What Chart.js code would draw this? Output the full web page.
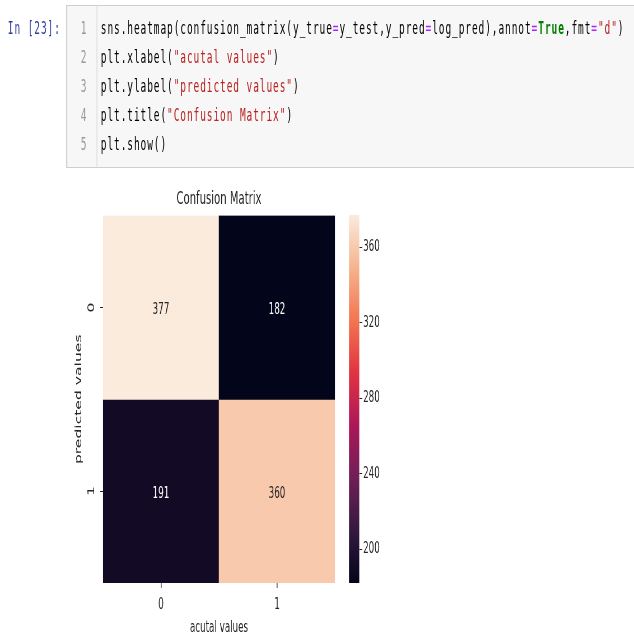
<!DOCTYPE html>
<html><head><meta charset="utf-8">
<script src="https://cdn.jsdelivr.net/npm/chart.js@4.4.1/dist/chart.umd.min.js"></script>
<style>
html,body{margin:0;padding:0;background:#fff;overflow:hidden;width:634px;height:633px;}
#page{position:absolute;left:0;top:0;width:1132px;height:633px;transform:scaleX(0.56);transform-origin:0 0;}
.mono{font-family:'DejaVu Sans Mono',monospace;font-size:17px;letter-spacing:1.6px;line-height:29px;white-space:pre;}
#prompt{position:absolute;left:14px;top:13.5px;color:#303F9F;}
#cell{position:absolute;left:118px;top:5px;width:1100px;height:161px;background:#f7f7f7;border:1px solid #cfcfcf;border-left-width:2px;}
#gutter{position:absolute;left:0;top:0;width:52px;height:100%;border-right:2px solid #e2e2e2;}
#nums{position:absolute;left:0;top:7.5px;width:36px;text-align:right;color:#999;}
#code{position:absolute;left:60px;top:7.5px;color:#000;}
.s{color:#BA2121}.o{color:#AA22FF}.k{color:#008000;font-weight:bold}
#main{position:absolute;left:0;top:180px;}
#cbar{position:absolute;left:600px;top:180px;}
</style></head>
<body>
<div id="page">
  <div id="prompt" class="mono">In [23]:</div>
  <div id="cell">
    <div id="gutter"></div>
    <div id="nums" class="mono">1
2
3
4
5</div>
    <div id="code" class="mono">sns.heatmap(confusion_matrix(y_true<span class="o">=</span>y_test,y_pred<span class="o">=</span>log_pred),annot<span class="o">=</span><span class="k">True</span>,fmt<span class="o">=</span><span class="s">"d"</span>)
plt.xlabel(<span class="s">"acutal values"</span>)
plt.ylabel(<span class="s">"predicted values"</span>)
plt.title(<span class="s">"Confusion Matrix"</span>)
plt.show()</div>
  </div>
  <canvas id="main" width="620" height="470"></canvas>
  <canvas id="cbar" width="140" height="453"></canvas>
</div>
<script>
// ---- data ----
const xLabels = ['0', '1'];            // actual values (columns)
const yLabels = ['0', '1'];            // predicted values (rows)
const row0Values = [377, 182];
const row1Values = [191, 360];
const colorbarTicks = [200, 240, 280, 320, 360];
const chartTitle = 'Confusion Matrix';
const xTitle = 'acutal values';
const yTitle = 'predicted values';

const rows = [row0Values, row1Values];
const allValues = rows.flat();
const vmin = Math.min(...allValues), vmax = Math.max(...allValues);

// seaborn "rocket" colormap stops
const rocket = [[0,'#03051a'],[1/7,'#35193e'],[2/7,'#701f57'],[3/7,'#ad1759'],[4/7,'#e13342'],[5/7,'#f37651'],[6/7,'#f6b48f'],[1,'#faebdd']];
function hex2rgb(h){return [1,3,5].map(i=>parseInt(h.slice(i,i+2),16));}
function cmapRGB(t){
  t=Math.max(0,Math.min(1,t));
  for(let i=0;i<rocket.length-1;i++){
    const [t0,c0]=rocket[i],[t1,c1]=rocket[i+1];
    if(t<=t1){const f=(t-t0)/(t1-t0);const a=hex2rgb(c0),b=hex2rgb(c1);return a.map((v,k)=>Math.round(v+(b[k]-v)*f));}
  }
  return hex2rgb(rocket[rocket.length-1][1]);
}
function colorFor(v){const c=cmapRGB((v-vmin)/(vmax-vmin));return `rgb(${c[0]},${c[1]},${c[2]})`;}
function lum(v){const c=cmapRGB((v-vmin)/(vmax-vmin)).map(x=>{x/=255;return x<=0.03928?x/12.92:Math.pow((x+0.055)/1.055,2.4);});return 0.2126*c[0]+0.7152*c[1]+0.0722*c[2];}

const FONT = "'DejaVu Sans', sans-serif";
const INK = '#262626';
const FS = 15.6;

const datasets = rows.map((r,i)=>({
  label: 'predicted ' + yLabels[i],
  data: r.map((v,j)=>({x: xLabels[j], y: [i, i+1]})),
  backgroundColor: r.map(colorFor),
  borderWidth: 0,
  barPercentage: 1, categoryPercentage: 1, grouped: false
}));

const annot = {
  id: 'annot',
  afterDatasetsDraw(chart){
    const ctx = chart.ctx; ctx.save();
    ctx.font = FS + 'px ' + FONT; ctx.textAlign = 'center'; ctx.textBaseline = 'alphabetic';
    chart.data.datasets.forEach((ds,i)=>{
      chart.getDatasetMeta(i).data.forEach((el,j)=>{
        const v = rows[i][j];
        const p = el.getProps(['x','y','base'], true);
        ctx.fillStyle = lum(v) > 0.408 ? INK : '#ffffff';
        ctx.fillText(String(v), p.x, (p.y + p.base)/2 + 0.36 * FS + 1);
      });
    });
    ctx.restore();
  }
};

new Chart(document.getElementById('main'), {
  type: 'bar',
  data: { labels: xLabels, datasets },
  options: {
    responsive: false, animation: false, devicePixelRatio: 1,
    layout: { padding: { left: 0, right: 21.8, top: 0, bottom: 0 } },
    plugins: {
      legend: { display: false }, tooltip: { enabled: false },
      title: { display: true, fullSize: false, text: chartTitle, color: INK, font: { family: FONT, size: 18, weight: 'normal' }, padding: { top: 9, bottom: 5 } }
    },
    scales: {
      x: {
        type: 'category', offset: true,
        grid: { display: true, drawOnChartArea: false, drawTicks: true, tickLength: 5, offset: false, color: INK, lineWidth: 1.5 },
        border: { display: false },
        ticks: { color: INK, font: { family: FONT, size: FS }, padding: 8, maxRotation: 0 },
        title: { display: true, text: xTitle, color: INK, font: { family: FONT, size: FS }, padding: { top: 0, bottom: 12.6 } },
        afterFit(s){ s.height = 67; }
      },
      y: {
        type: 'linear', min: 0, max: 2, reverse: true,
        afterBuildTicks(s){ s.ticks = yLabels.map((_,i)=>({ value: i + 0.5 })); },
        ticks: { callback: (v)=>yLabels[Math.floor(v)], minRotation: 90, maxRotation: 90, crossAlign: 'center', padding: 9.85, color: INK, font: { family: FONT, size: FS } },
        grid: { display: true, drawOnChartArea: false, drawTicks: true, tickLength: 5.3, color: INK, lineWidth: 1 },
        border: { display: false },
        title: { display: true, text: yTitle, color: INK, font: { family: FONT, size: FS }, padding: { top: 131.7, bottom: 0 } },
        afterFit(s){ s.width = 183.9; }
      }
    }
  },
  plugins: [annot]
});

new Chart(document.getElementById('cbar'), {
  type: 'bar',
  data: {
    labels: ['colorbar'],
    datasets: [{
      data: [[vmin, vmax]],
      backgroundColor: (c)=>{
        const ch = c.chart; if (!ch.chartArea) return 'rgba(0,0,0,0)';
        const ys = ch.scales.y;
        const g = ch.ctx.createLinearGradient(0, ys.getPixelForValue(vmin), 0, ys.getPixelForValue(vmax));
        rocket.forEach(([t,col])=>g.addColorStop(t,col));
        return g;
      },
      borderWidth: 0, barPercentage: 1, categoryPercentage: 1
    }]
  },
  options: {
    responsive: false, animation: false, devicePixelRatio: 1,
    layout: { padding: { left: 23.2, top: 35, bottom: 50, right: 0 } },
    plugins: { legend: { display: false }, tooltip: { enabled: false }, title: { display: false } },
    scales: {
      x: { display: false, offset: true },
      y: {
        position: 'right', min: vmin, max: vmax,
        afterBuildTicks(s){ s.ticks = colorbarTicks.map(v=>({ value: v })); },
        ticks: { color: INK, font: { family: FONT, size: FS }, padding: 1.5 },
        grid: { display: true, drawOnChartArea: false, drawTicks: true, tickLength: 5.3, color: INK },
        border: { display: false },
        afterFit(s){ s.width = 98.4; }
      }
    }
  }
});
</script>
</body></html>
